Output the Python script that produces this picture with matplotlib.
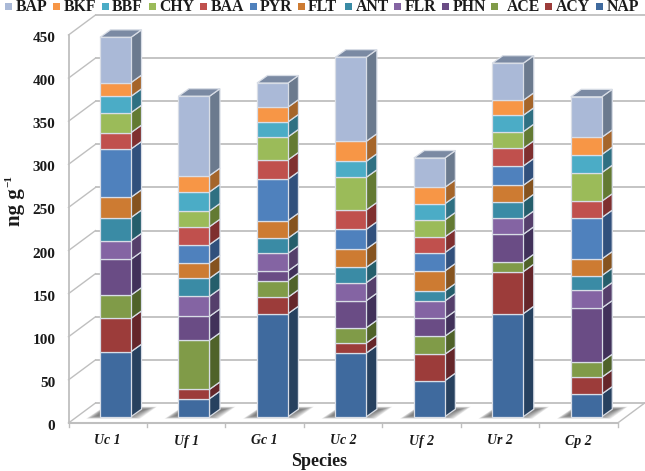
import numpy as np
import matplotlib
matplotlib.use('Agg')
import matplotlib.pyplot as plt
from matplotlib.patches import Polygon, Rectangle
from matplotlib.transforms import Affine2D

plt.rcParams['font.family'] = 'Liberation Serif'
plt.rcParams['font.weight'] = 'bold'

species = ['Uc 1', 'Uf 1', 'Gc 1', 'Uc 2', 'Uf 2', 'Ur 2', 'Cp 2']
yticks = [0, 50, 100, 150, 200, 250, 300, 350, 400, 450]

# bottom to top
NAP = [75.4, 20.9, 119.5, 73.9, 41.8, 119.5, 26.3]
ACY = [38.6, 10.8, 19.0, 11.6, 30.6, 48.7, 19.4]
ACE = [27.0, 56.9, 19.3, 17.7, 20.9, 11.6, 18.1]
PHN = [41.6, 27.8, 11.2, 31.4, 20.8, 31.8, 62.2]
FLR = [21.4, 23.2, 20.5, 20.9, 20.1, 18.4, 21.0]
ANT = [27.0, 20.9, 17.5, 17.8, 11.6, 19.4, 16.6]
FLT = [23.5, 17.8, 20.4, 21.2, 23.2, 19.0, 19.3]
PYR = [56.0, 21.3, 48.0, 22.9, 21.3, 22.4, 48.0]
BAA = [19.0, 20.8, 22.4, 22.4, 18.2, 20.5, 19.0]
CHY = [23.1, 18.2, 26.7, 37.9, 19.7, 19.3, 33.1]
BBF = [19.0, 22.1, 17.4, 18.6, 18.8, 19.0, 21.0]
BKF = [15.9, 18.9, 17.1, 23.2, 19.0, 17.4, 20.0]
BAP = [52.5, 92.1, 28.0, 97.5, 34.0, 43.0, 47.0]

series = [NAP, ACY, ACE, PHN, FLR, ANT, FLT, PYR, BAA, CHY, BBF, BKF, BAP]
names = ['NAP', 'ACY', 'ACE', 'PHN', 'FLR', 'ANT', 'FLT', 'PYR', 'BAA', 'CHY', 'BBF', 'BKF', 'BAP']
colors = ['#3f6a9e', '#9c3c3a', '#809b48', '#6a4c85', '#8464a3', '#3a8ba5', '#cd7b32',
          '#4f81bd', '#c0504d', '#9bbb59', '#4bacc6', '#f79646', '#aab9d7']
side_colors = ['#27415f', '#65262a', '#4f6229', '#41315a', '#553f6b', '#255e6b', '#85531f',
               '#31507c', '#7f2f2f', '#637a33', '#2f7082', '#a5652a', '#6b7a8e']

# legend left edges in pixels, marker then text
legend_marker = [5, 53, 102, 149, 200, 250, 298, 345, 394, 442, 491, 545, 596]
legend_text = [16, 63.5, 112, 159, 210.5, 260, 308, 355.5, 405, 453, 506.5, 556, 606.5]
legend_order = names[::-1]
legend_colors = colors[::-1]

W, H = 645, 471
fig = plt.figure(figsize=(W / 100, H / 100), dpi=100)
ax = fig.add_axes([68.5 / W, (H - 423) / H, 549.2 / W, 388 / H])
ax.set_xlim(-0.5, 6.5)
ax.set_ylim(0, 450)
ax.axis('off')


def shift(dx, dy):
    # data coords pushed back into the 3d depth, in pixels
    return ax.transData + Affine2D().translate(dx, dy)


wall = shift(27, 20)
grid = '#bfbfbf'
xpx = 549.2 / 7
ypx = 388 / 450
for t in yticks:
    ax.plot([-0.5, 6.5], [t, t], transform=wall, color=grid, lw=1.3, clip_on=False, zorder=1)
    ax.plot([-0.5, -0.5 + 27 / xpx], [t, t + 20 / ypx], color=grid, lw=1.0, clip_on=False, zorder=1)
    ax.text(-0.5, t, str(t), transform=shift(-13, -2), ha='right', va='center_baseline',
            fontsize=11, color='#1a1a1a', clip_on=False)
ax.plot([-0.5, -0.5], [0, 450], color=grid, lw=1.3, clip_on=False, zorder=1)
ax.plot([-0.5, 6.5], [0, 0], color=grid, lw=1.5, clip_on=False, zorder=1)
ax.plot([6.5, 6.5 + 27 / xpx], [0, 20 / ypx], color=grid, lw=1.0, clip_on=False, zorder=1)
for k in range(8):
    ax.plot([k - 0.5, k - 0.5], [0, -5], color=grid, lw=1.0, clip_on=False, zorder=1)

# floor shadows, faked blur with stacked polygons
bar_w = 31 / xpx
front = shift(7.8, 6.3)
for i in range(len(species)):
    x0 = i - bar_w / 2
    x1 = i + bar_w / 2
    for grow in np.arange(6, -6, -1):
        pts = [(x0 - (8 + grow) / xpx, -(0.5 + grow * 0.25) / ypx), (x1 + (3 + grow) / xpx, -(0.5 + grow * 0.25) / ypx),
               (x1 + (20 + grow) / xpx, (8.5 + grow * 0.25) / ypx), (x0 + 4 / xpx, (8.5 + grow * 0.25) / ypx)]
        ax.add_patch(Polygon(pts, closed=True, transform=front, facecolor='#555555', edgecolor='none',
                             alpha=0.1, clip_on=False, zorder=2))

# stacked 3d columns
edge = '#d8dde6'
bottom = np.zeros(len(species))
dx, dy = 10.5 / xpx, 7.5 / ypx
for j, vals in enumerate(series):
    ax.bar(range(len(species)), vals, bottom=bottom, width=bar_w, color=colors[j], edgecolor=edge, linewidth=0.9,
           transform=front, clip_on=False, zorder=4)
    for i, v in enumerate(vals):
        x1 = i + bar_w / 2
        b = bottom[i]
        pts = [(x1, b), (x1 + dx, b + dy), (x1 + dx, b + v + dy), (x1, b + v)]
        ax.add_patch(Polygon(pts, closed=True, transform=front, facecolor=side_colors[j], edgecolor=edge,
                             linewidth=0.9, clip_on=False, zorder=3))
    bottom = bottom + np.array(vals)

# column tops
for i, t in enumerate(bottom):
    x0, x1 = i - bar_w / 2, i + bar_w / 2
    pts = [(x0, t), (x1, t), (x1 + dx, t + dy), (x0 + dx, t + dy)]
    ax.add_patch(Polygon(pts, closed=True, transform=front, facecolor='#7b8aa3', edgecolor=edge, linewidth=0.9,
                         clip_on=False, zorder=3))

for i, s in enumerate(species):
    ax.text(i, 0, s, transform=shift(0, -18), ha='center', va='center',
            fontsize=10, style='italic', color='#1a1a1a', clip_on=False)

fig.text(319 / W, 1 - 462 / H, 'Species', ha='center', va='center', fontsize=13, color='#1a1a1a')
fig.text(15 / W, 1 - 226 / H, 'ng g', rotation=90, ha='center', va='bottom', fontsize=15, color='#1a1a1a')
fig.text(9 / W, 1 - 187 / H, '\u22121', rotation=90, ha='center', va='bottom', fontsize=8, color='#1a1a1a')

# legend row along the top
for m, t, name, c in zip(legend_marker, legend_text, legend_order, legend_colors):
    fig.add_artist(Rectangle((m / W, 1 - 9.5 / H), 7 / W, 7 / H, transform=fig.transFigure, facecolor=c,
                             edgecolor='none'))
    fig.text(t / W, 1 - 7 / H, name, ha='left', va='center', fontsize=11.3, color='#1a1a1a')

fig.savefig('out.png', dpi=100)
